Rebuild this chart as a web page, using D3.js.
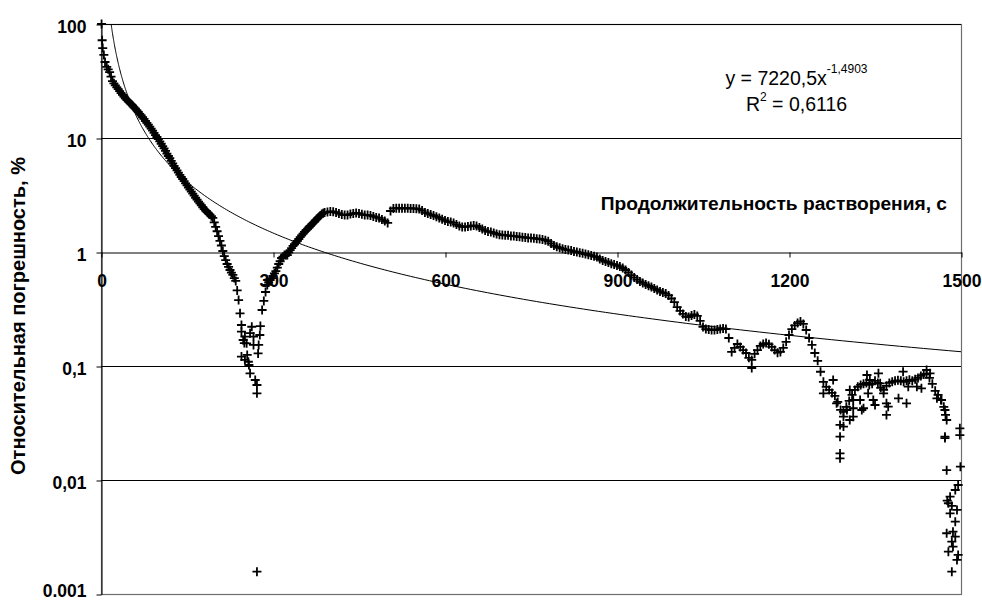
<!DOCTYPE html>
<html>
<head>
<meta charset="utf-8">
<script src="https://cdn.jsdelivr.net/npm/d3@7"></script>
<style>
  body { margin: 0; background: #fff; }
  svg { display: block; }
  text { font-family: "Liberation Sans", Arial, sans-serif; fill: #000; }
</style>
</head>
<body>
<script>
// main trace, time in seconds
var timeS = [1, 2, 3, 5, 7, 10, 15, 20, 25, 30, 35, 40, 45, 50, 55, 60, 65, 70, 75, 80,
    85, 90, 95, 100, 105, 110, 115, 120, 125, 130, 135, 140, 145, 150, 155, 160, 165, 170,
    175, 180, 185, 190, 195, 200, 205, 210, 215, 220, 225, 230, 235, 240, 245, 250, 255, 258,
    275, 278, 281, 284, 287, 290, 295, 300, 305, 310, 315, 320, 325, 330, 335, 340, 345, 350,
    355, 360, 365, 370, 375, 380, 385, 390, 395, 400, 405, 410, 415, 420, 425, 430, 435, 440,
    445, 450, 455, 460, 465, 470, 475, 480, 485, 490, 495, 500, 505, 510, 515, 520, 525, 530,
    535, 540, 545, 550, 555, 560, 565, 570, 575, 580, 585, 590, 595, 600, 605, 610, 615, 620,
    625, 630, 635, 640, 645, 650, 655, 660, 665, 670, 675, 680, 685, 690, 695, 700, 705, 710,
    715, 720, 725, 730, 735, 740, 745, 750, 755, 760, 765, 770, 775, 780, 785, 790, 795, 800,
    805, 810, 815, 820, 825, 830, 835, 840, 845, 850, 855, 860, 865, 870, 875, 880, 885, 890,
    895, 900, 905, 910, 915, 920, 925, 930, 935, 940, 945, 950, 955, 960, 965, 970, 975, 980,
    985, 990, 995, 1000, 1005, 1010, 1015, 1020, 1025, 1030, 1035, 1040, 1045, 1050, 1055, 1060,
    1065, 1070, 1075, 1080, 1085, 1090, 1095, 1100, 1105, 1110, 1115, 1120, 1125, 1130, 1135,
    1140, 1145, 1150, 1155, 1160, 1165, 1170, 1175, 1180, 1185, 1190, 1195, 1200, 1205, 1210,
    1215, 1220, 1225, 1230, 1235, 1240, 1245, 1250, 1255, 1260, 1265, 1270, 1275, 1280, 1285,
    1290, 1295, 1300, 1305, 1310, 1315, 1320, 1325, 1330, 1335, 1340, 1345, 1350, 1355, 1360,
    1365, 1370, 1375, 1380, 1385, 1390, 1395, 1400, 1405, 1410, 1415, 1420, 1425, 1430, 1435,
    1440, 1445, 1450, 1455, 1460, 1465, 1470, 1473, 1475]

// relative error, %
var errPct = [100, 72, 61.5, 53.5, 46.4, 42, 37.9, 31.6, 28.9, 26.8, 24.8, 23.1, 21.6, 20.4, 19.2, 18.1, 16.9, 15.8, 14.7, 13.6,
    12.6, 11.6, 10.6, 9.8, 8.9, 8.1, 7.3, 6.65, 6.0, 5.45, 4.97, 4.55, 4.19, 3.84, 3.53, 3.25, 2.99, 2.77,
    2.57, 2.38, 2.24, 2.13, 1.99, 1.66, 1.38, 1.14, 0.92, 0.785, 0.695, 0.63, 0.557, 0.379, 0.229, 0.159, 0.125, 0.102,
    0.153, 0.224, 0.31, 0.372, 0.446, 0.514, 0.568, 0.616, 0.68, 0.785, 0.886, 0.94, 0.94, 1.04, 1.13, 1.21, 1.30, 1.40,
    1.50, 1.59, 1.69, 1.80, 1.91, 2.03, 2.15, 2.22, 2.24, 2.27, 2.26, 2.22, 2.18, 2.13, 2.11, 2.11, 2.15, 2.18,
    2.20, 2.18, 2.14, 2.11, 2.11, 2.09, 2.05, 2.01, 1.99, 1.93, 1.87, 1.80, 2.29, 2.41, 2.42, 2.42, 2.42, 2.42,
    2.42, 2.41, 2.41, 2.40, 2.38, 2.31, 2.22, 2.18, 2.13, 2.09, 2.04, 1.99, 1.94, 1.89, 1.85, 1.83, 1.80, 1.74,
    1.69, 1.66, 1.66, 1.67, 1.69, 1.71, 1.69, 1.64, 1.59, 1.54, 1.51, 1.50, 1.47, 1.44, 1.42, 1.41, 1.40, 1.40,
    1.38, 1.38, 1.37, 1.36, 1.35, 1.34, 1.33, 1.33, 1.32, 1.31, 1.30, 1.29, 1.27, 1.24, 1.19, 1.14, 1.11, 1.09,
    1.07, 1.05, 1.04, 1.03, 1.01, 1.00, 0.986, 0.974, 0.960, 0.945, 0.932, 0.917, 0.904, 0.868, 0.842, 0.825, 0.809, 0.788,
    0.777, 0.761, 0.746, 0.724, 0.695, 0.661, 0.628, 0.598, 0.574, 0.551, 0.535, 0.519, 0.506, 0.493, 0.478, 0.464, 0.451, 0.441,
    0.432, 0.416, 0.391, 0.364, 0.329, 0.304, 0.286, 0.272, 0.269, 0.278, 0.283, 0.275, 0.249, 0.220, 0.211, 0.209,
    0.207, 0.207, 0.209, 0.211, 0.213, 0.211, 0.176, 0.133, 0.144, 0.156, 0.147, 0.138, 0.130, 0.118, 0.113,
    0.128, 0.138, 0.150, 0.156, 0.159, 0.155, 0.147, 0.138, 0.131, 0.133, 0.144, 0.163, 0.187, 0.211, 0.227,
    0.238, 0.246, 0.234, 0.207, 0.176, 0.153, 0.130, 0.111, 0.089, 0.0726, 0.0656, 0.0617, 0.0581, 0.0547, 0.0484,
    0.0412, 0.0396, 0.0438, 0.0494, 0.0557, 0.0617, 0.0656, 0.0683, 0.0697, 0.0711, 0.0683, 0.0697, 0.0741, 0.0711, 0.0643,
    0.0617, 0.0670, 0.0711, 0.0726, 0.0741, 0.0749, 0.0741, 0.0726, 0.0741, 0.0756, 0.0741, 0.0764, 0.0786, 0.0818, 0.0843,
    0.0851, 0.0786, 0.0697, 0.0606, 0.0557, 0.0504, 0.0438, 0.0372, 0.0336]

// extra readings on the steep parts, where the samples lie far apart vertically
var steepT = [12.5, 17.5, 22.5, 27.5, 32.5, 37.5, 42.5, 47.5, 52.5, 57.5, 62.5, 67.5, 72.5, 77.5, 82.5,
    87.5, 92.5, 97.5, 102.5, 107.5, 112.5, 117.5, 122.5, 127.5, 132.5, 137.5, 142.5, 147.5, 152.5,
    157.5, 162.5, 167.5, 172.5, 177.5, 182.5, 187.5, 192.5, 197.5, 202.5, 207.5, 212.5, 217.5,
    222.5, 227.5, 232.5, 237.5, 242.5,
    292.5, 297.5, 302.5, 307.5, 312.5, 317.5, 322.5, 327.5, 332.5, 337.5, 342.5, 347.5, 352.5,
    357.5, 362.5, 367.5, 372.5, 377.5, 382.5, 387.5]
var steepV = [40, 34.5, 30.2, 27.8, 25.8, 23.9, 22.3, 21.0, 19.8, 18.6, 17.5, 16.3, 15.2, 14.1, 13.1,
    12.1, 11.1, 10.2, 9.35, 8.5, 7.7, 6.95, 6.3, 5.7, 5.2, 4.75, 4.37, 4.0, 3.68,
    3.39, 3.12, 2.88, 2.67, 2.47, 2.31, 2.18, 2.06, 1.82, 1.52, 1.25, 1.02, 0.85,
    0.74, 0.66, 0.59, 0.46, 0.29,
    0.54, 0.59, 0.65, 0.73, 0.83, 0.91, 0.94, 0.99, 1.08, 1.17, 1.25, 1.35, 1.45,
    1.55, 1.64, 1.75, 1.85, 1.97, 2.09, 2.19]

// scattered points off the main trace
var scatterT = [245, 248, 251, 254, 260, 263, 266, 266, 274, 245, 251, 257, 260, 269, 272, 272, 272, 277,
    1135,
    1260, 1277, 1283, 1289, 1295, 1289, 1289, 1289, 1295, 1301, 1306, 1312, 1312, 1306, 1312, 1324,
    1327, 1330, 1336, 1341, 1338, 1347, 1350, 1356, 1359, 1365, 1370, 1370, 1373, 1391, 1399, 1405,
    1408, 1423, 1431, 1440, 1446, 1458, 1466, 1472, 1472, 1472, 1475, 1498, 1498, 1499,
    1495, 1490, 1481, 1478, 1481, 1493, 1490, 1475, 1486, 1490, 1484, 1486, 1478, 1495, 1493, 1484,
    1476, 1484]
var scatterV = [0.200, 0.169, 0.181, 0.158, 0.194, 0.221, 0.181, 0.153, 0.129, 0.121, 0.113, 0.109, 0.0863, 0.0754, 0.0681, 0.0576, 0.00157, 0.187,
    0.096,
    0.0576, 0.0754, 0.0471, 0.0304, 0.0294, 0.0240, 0.0171, 0.0155, 0.0359, 0.0411, 0.0336, 0.0359, 0.0426, 0.0616, 0.0503, 0.0503,
    0.0411, 0.0426, 0.0834, 0.0754, 0.0576, 0.0503, 0.0455, 0.0863, 0.0705, 0.0576, 0.0471, 0.0372, 0.0440, 0.0521, 0.0891, 0.0471,
    0.0658, 0.0658, 0.0637, 0.0922, 0.0863, 0.0521, 0.0503, 0.0411, 0.0240, 0.0233, 0.0122, 0.0284, 0.0248, 0.0131,
    0.00904, 0.00817, 0.00714, 0.00625, 0.00510, 0.00546, 0.00431, 0.00341, 0.00352, 0.00318, 0.00288, 0.00260, 0.00235, 0.00220, 0.00199, 0.00157,
    0.00660, 0.00592]

// power trendline y = a * x^b
var trendA = 7220.5
var trendB = -1.4903

var xTicks = [0, 300, 600, 900, 1200, 1500]
var yTicks = [100, 10, 1, 0.1, 0.01, 0.001]
var yTickLabels = ['100', '10', '1', '0,1', '0,01', '0.001']

var W = 982, H = 601
var plot = { left: 101, right: 961, top: 24, bottom: 594 }

var x = d3.scaleLinear().domain([0, 1500]).range([plot.left, plot.right])
var y = d3.scaleLog().domain([0.001, 100]).range([plot.bottom, plot.top])

var d = d3.select('body').append('svg')
    .attr('width', W)
    .attr('height', H)

// plot area border
d.append('rect')
    .attr('x', plot.left + 0.5)
    .attr('y', plot.top + 0.5)
    .attr('width', plot.right - plot.left)
    .attr('height', plot.bottom - plot.top)
    .attr('fill', 'none')
    .attr('stroke', '#6e6e6e')
    .attr('stroke-width', 1.2)

// horizontal gridlines
d.append('g').selectAll('line')
    .data(yTicks.filter(function (v) { return v !== 1 && v !== 0.001 }))
    .enter().append('line')
    .attr('x1', plot.left)
    .attr('x2', plot.right)
    .attr('y1', function (v) { return Math.round(y(v)) + 0.5 })
    .attr('y2', function (v) { return Math.round(y(v)) + 0.5 })
    .attr('stroke', '#000')
    .attr('stroke-width', 1)

var font = 17.5

// y axis
var yAxis = d.append('g')
    .attr('transform', 'translate(' + (plot.left + 0.5) + ',0.5)')
    .call(d3.axisLeft(y)
        .tickValues(yTicks)
        .tickFormat(function (v, i) { return yTickLabels[i] })
        .tickSize(5)
        .tickSizeOuter(0)
        .tickPadding(10))
yAxis.select('.domain').attr('stroke', '#000')
yAxis.selectAll('.tick line').attr('stroke', '#000')
yAxis.selectAll('.tick text')
    // bottom label pulled up a little so it stays inside the picture
    .attr('dy', function (v) { return v === 0.001 ? '0.12em' : '0.43em' })
    .style('font-size', font + 'px')
    .style('font-weight', 'bold')

// x axis crosses at y = 1
var xAxis = d.append('g')
    .attr('transform', 'translate(0.5,' + (Math.round(y(1)) + 0.5) + ')')
    .call(d3.axisBottom(x)
        .tickValues(xTicks)
        .tickFormat(d3.format('d'))
        .tickSize(5)
        .tickSizeOuter(0)
        .tickPadding(17.5))
xAxis.select('.domain').attr('stroke', '#000')
xAxis.selectAll('.tick line').attr('stroke', '#000')
xAxis.selectAll('.tick text')
    .style('font-size', font + 'px')
    .style('font-weight', 'bold')

// axis titles
d.append('text')
    .attr('transform', 'translate(25,316) rotate(-90)')
    .attr('text-anchor', 'middle')
    .style('font-size', '20px')
    .style('font-weight', 'bold')
    .text('Относительная погрешность, %')

d.append('text')
    .attr('x', 947)
    .attr('y', 210)
    .attr('text-anchor', 'end')
    .style('font-size', '19.2px')
    .style('font-weight', 'bold')
    .text('Продолжительность растворения, с')

// trendline label
var eq = d.append('text')
    .attr('x', 796.5)
    .attr('y', 85)
    .attr('text-anchor', 'middle')
    .style('font-size', '19.5px')
eq.append('tspan').text('y = 7220,5x')
eq.append('tspan').attr('dy', -12.5).style('font-size', '12px').text('-1,4903')

var r2 = d.append('text')
    .attr('x', 796.5)
    .attr('y', 111)
    .attr('text-anchor', 'middle')
    .style('font-size', '19.5px')
r2.append('tspan').text('R')
r2.append('tspan').attr('dy', -10).style('font-size', '12px').text('2')
r2.append('tspan').attr('dy', 10).text(' = 0,6116')

// data markers
function pairs(ts, vs) {
    return ts.map(function (t, i) { return { t: t, v: vs[i] } })
}
var pts = pairs(timeS, errPct)
    .concat(pairs(steepT, steepV))
    .concat(pairs(scatterT, scatterV))

d.append('g').selectAll('path')
    .data(pts)
    .enter().append('path')
    .attr('transform', function (p) { return 'translate(' + x(p.t) + ',' + y(p.v) + ')' })
    .attr('d', 'M-4.5,0H4.5M0,-4.5V4.5')
    .attr('stroke', '#000')
    .attr('stroke-width', 1.8)
    .attr('fill', 'none')

// power trendline, starts where it enters the plot at 100 %
var tStart = Math.pow(100 / trendA, 1 / trendB)
var trend = d3.range(0, 301).map(function (i) {
    var t = tStart * Math.pow(1500 / tStart, i / 300)
    return { t: t, v: trendA * Math.pow(t, trendB) }
})

d.append('path')
    .attr('d', d3.line()
        .x(function (p) { return x(p.t) })
        .y(function (p) { return y(p.v) })(trend))
    .attr('fill', 'none')
    .attr('stroke', '#000')
    .attr('stroke-width', 1)
</script>
</body>
</html>
